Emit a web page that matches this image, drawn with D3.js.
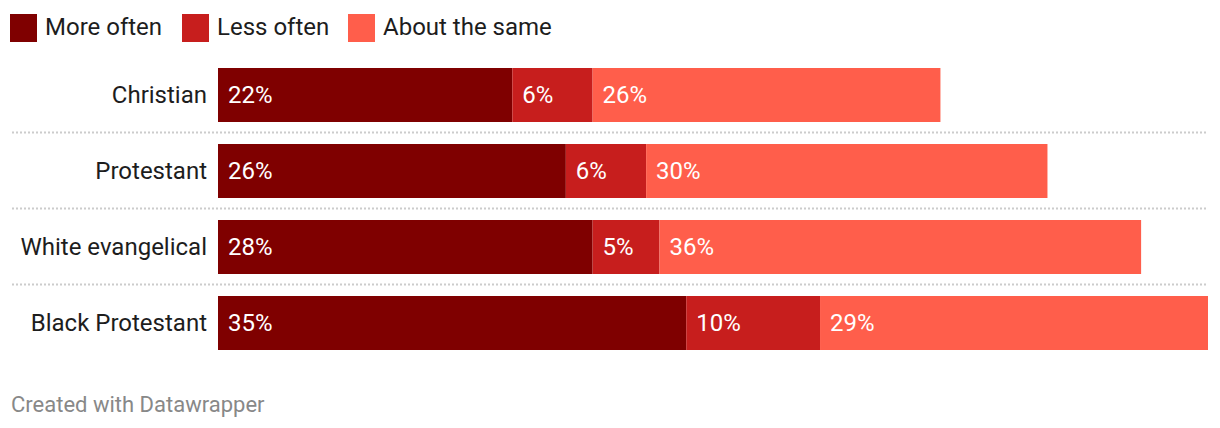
<!DOCTYPE html>
<html><head><meta charset="utf-8">
<script src="https://cdn.jsdelivr.net/npm/d3@7"></script>
<style>body{margin:0;background:#fff;font-family:Roboto,sans-serif;}</style>
</head><body><svg id="c" width="1220" height="428"></svg>
<script>
const categories = ["Christian","Protestant","White evangelical","Black Protestant"];
const seriesNames = ["More often","Less often","About the same"];
const moreOften = [22,26,28,35];
const lessOften = [6,6,5,10];
const aboutSame = [26,30,36,29];
const colors = ["#7f0000","#c71e1d","#ff5e4b"];

const svg = d3.select("#c");
const rows = categories.map((c,i)=>({cat:c, vals:[moreOften[i],lessOften[i],aboutSame[i]]}));
const maxTotal = d3.max(rows, r=>d3.sum(r.vals));
const x = d3.scaleLinear().domain([0,maxTotal]).range([218,1208]);
const y = d3.scaleBand().domain(categories).range([68, 350]).paddingInner(22/76).paddingOuter(0);
const bh = y.bandwidth();

// legend
const legX = [10,182,348];
seriesNames.forEach((s,i)=>{
  svg.append("rect").attr("x",legX[i]).attr("y",14).attr("width",27).attr("height",28).attr("fill",colors[i]);
  svg.append("text").attr("x",legX[i]+35).attr("y",34.5).attr("font-size",24).attr("fill","#1d1d1d").text(s);
});

rows.forEach((r,i)=>{
  const top = y(r.cat);
  let cum = 0;
  r.vals.forEach((v,j)=>{
    svg.append("rect").attr("x",x(cum)).attr("y",top).attr("width",x(cum+v)-x(cum)).attr("height",bh).attr("fill",colors[j]);
    svg.append("text").attr("x",x(cum)+10).attr("y",top+bh/2+7.5).attr("font-size",24).attr("fill","#fff").text(v+"%");
    cum += v;
  });
  svg.append("text").attr("x",207).attr("y",top+bh/2+7.5).attr("text-anchor","end").attr("font-size",24).attr("fill","#1d1d1d").text(r.cat);
  if(i<rows.length-1){
    const ly = (top + bh + y(categories[i+1]))/2 - 0.5;
    svg.append("line").attr("x1",12).attr("x2",1208).attr("y1",ly).attr("y2",ly)
      .attr("stroke","#cccccc").attr("stroke-width",2).attr("stroke-dasharray","2,2");
  }
});

svg.append("text").attr("x",11).attr("y",412).attr("font-size",22).attr("fill","#888").text("Created with Datawrapper");
</script></body></html>
